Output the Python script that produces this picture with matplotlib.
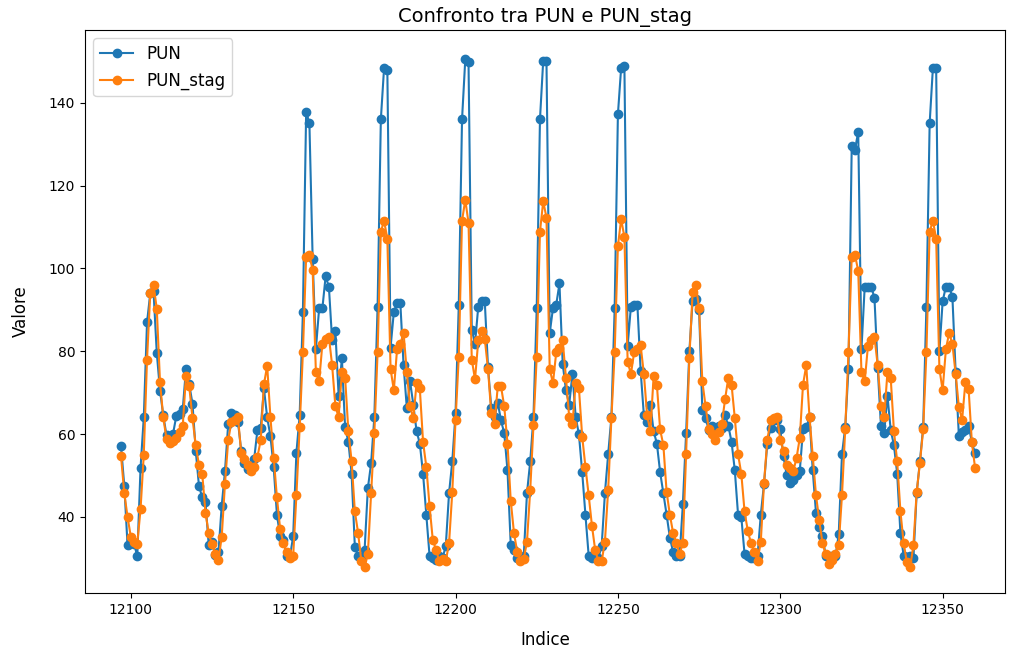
import numpy as np
import matplotlib
matplotlib.use("Agg")
import matplotlib.pyplot as plt

start_index = 12097

pun = [
    57.0, 47.5, 33.2, 34.5, 33.5, 30.5, 51.8, 64.0, 87.0, 94.0, 94.5, 79.6,
    70.5, 64.5, 59.7, 59.5, 60.0, 64.3, 64.8, 66.0, 75.8, 72.0, 67.3, 56.0,
    47.4, 44.7, 43.5, 33.2, 33.8, 30.8, 31.5, 42.7, 51.0, 62.5, 65.0, 64.5,
    63.0, 56.0, 53.0, 51.5, 52.0, 54.0, 61.0, 61.5, 71.0, 64.0, 59.5, 52.0,
    40.5, 35.3, 34.5, 30.5, 30.3, 35.3, 55.5, 64.5, 89.5, 137.9, 135.1, 102.4,
    80.5, 90.4, 90.4, 98.1, 95.6, 82.6, 84.8, 69.3, 78.3, 61.6, 58.1, 50.4,
    32.7, 30.5, 30.0, 32.0, 46.9, 52.9, 64.1, 90.8, 136.0, 148.5, 148.0, 80.9,
    89.5, 91.7, 91.7, 76.6, 66.3, 72.7, 67.1, 60.7, 57.7, 50.4, 40.5, 30.6,
    30.0, 29.5, 30.6, 30.0, 33.0, 45.7, 53.4, 65.0, 91.2, 136.0, 150.5, 149.8,
    85.2, 81.8, 90.8, 92.1, 92.1, 76.2, 66.3, 64.0, 67.6, 63.3, 60.2, 51.2,
    33.2, 32.0, 30.1, 30.0, 30.5, 45.7, 53.4, 64.1, 90.4, 136.0, 150.2, 150.2,
    84.3, 90.4, 91.2, 96.4, 77.0, 70.6, 67.1, 74.5, 64.1, 59.9, 50.8, 40.5,
    30.6, 30.1, 30.1, 30.1, 33.0, 45.7, 55.1, 64.1, 90.4, 137.2, 148.5, 148.9,
    81.3, 90.8, 91.2, 91.2, 75.3, 64.5, 62.8, 67.1, 60.7, 57.7, 50.8, 45.7,
    40.5, 35.0, 31.5, 30.5, 30.5, 43.0, 60.2, 80.0, 92.1, 92.5, 90.0, 65.8,
    63.8, 61.0, 62.0, 61.5, 62.0, 61.5, 64.5, 62.0, 58.1, 51.2, 40.5, 40.0,
    31.0, 30.5, 30.0, 30.0, 30.5, 40.5, 48.0, 57.7, 61.5, 63.5, 63.5, 61.1,
    54.6, 50.0, 48.2, 49.0, 50.0, 51.0, 61.1, 61.6, 64.1, 51.2, 40.9, 37.5,
    35.3, 30.6, 30.5, 30.6, 30.5, 35.8, 55.1, 61.6, 75.7, 129.5, 128.7, 133.0,
    80.5, 95.6, 95.6, 95.6, 92.9, 76.0, 62.0, 60.2, 69.3, 61.0, 57.3, 50.4,
    36.0, 30.6, 30.3, 30.6, 30.0, 45.7, 53.4, 61.6, 90.8, 135.1, 148.5, 148.5,
    80.0, 92.1, 95.6, 95.6, 93.2, 75.0, 59.5, 60.5, 61.0, 62.0, 58.0, 55.3,
]

pun_stag = [
    54.6, 45.7, 40.0, 35.2, 34.0, 33.5, 41.8, 55.0, 78.0, 94.0, 96.0, 90.3,
    72.5, 64.0, 58.8, 57.8, 58.3, 59.0, 60.5, 62.0, 74.0, 71.5, 63.8, 57.3,
    52.5, 50.4, 41.0, 36.0, 33.5, 31.0, 29.5, 35.2, 48.0, 58.5, 63.0, 63.5,
    64.0, 55.5, 54.0, 52.5, 51.0, 52.0, 54.5, 58.5, 72.0, 76.5, 64.0, 54.2,
    44.7, 37.0, 33.6, 31.5, 30.0, 30.5, 45.2, 61.6, 79.7, 102.8, 103.3, 99.6,
    74.9, 72.7, 81.8, 83.0, 83.5, 76.6, 66.7, 64.1, 74.9, 73.6, 60.7, 53.4,
    41.3, 36.1, 29.3, 27.8, 31.0, 45.7, 60.2, 79.7, 108.9, 111.5, 107.2, 75.7,
    70.6, 80.5, 81.8, 84.4, 74.9, 66.7, 63.8, 72.3, 71.0, 58.1, 52.1, 42.6,
    34.4, 32.0, 29.3, 29.7, 29.3, 33.6, 46.0, 63.3, 78.7, 111.5, 116.6, 111.0,
    78.0, 73.2, 82.6, 84.8, 83.0, 75.7, 65.0, 62.4, 71.5, 71.5, 66.7, 57.7,
    43.9, 36.1, 31.5, 29.3, 29.8, 34.0, 46.5, 62.1, 78.7, 108.9, 116.2, 112.3,
    75.7, 72.3, 79.7, 80.9, 82.6, 73.6, 64.1, 62.4, 72.3, 71.0, 59.4, 52.1,
    45.2, 37.9, 32.0, 29.3, 29.3, 34.0, 46.5, 63.8, 79.7, 105.4, 111.9, 107.6,
    77.5, 74.5, 79.7, 80.5, 81.4, 74.5, 64.5, 60.7, 74.0, 71.9, 61.1, 57.3,
    46.0, 40.5, 36.1, 33.6, 31.0, 33.6, 55.1, 78.3, 94.2, 96.0, 90.4, 72.7,
    66.7, 61.1, 59.9, 58.5, 60.5, 62.4, 68.4, 73.6, 71.9, 63.8, 55.1, 50.4,
    41.3, 36.6, 33.6, 31.5, 29.3, 34.0, 48.2, 58.5, 63.3, 63.8, 64.1, 58.5,
    56.0, 52.5, 51.7, 51.0, 54.2, 59.0, 71.9, 76.6, 64.1, 54.6, 45.2, 39.2,
    33.6, 31.0, 28.5, 29.5, 31.0, 33.2, 45.2, 61.1, 79.7, 102.8, 103.3, 99.4,
    74.9, 72.7, 81.3, 82.6, 83.5, 76.6, 66.7, 64.1, 74.9, 73.6, 60.7, 53.4,
    41.3, 33.6, 29.0, 27.8, 33.2, 46.0, 53.0, 61.1, 79.7, 108.9, 111.5, 107.2,
    75.7, 70.6, 80.5, 84.4, 81.8, 74.5, 66.5, 63.5, 72.5, 70.8, 58.0, 51.7,
]

indice = np.arange(start_index, start_index + len(pun))

fig = plt.figure(figsize=(10.09, 6.47), dpi=100)
ax = fig.add_axes([85 / 1009, 1 - 593 / 647, 920 / 1009, 563 / 647])

ax.plot(indice, pun, marker='o', label='PUN')
ax.plot(indice, pun_stag, marker='o', label='PUN_stag')

ax.set_xlim(12085.9, 12369.2)
ax.set_ylim(21.6, 157.6)

ax.set_title('Confronto tra PUN e PUN_stag', fontsize=14)
ax.set_xlabel('Indice', fontsize=12, labelpad=10)
ax.set_ylabel('Valore', fontsize=12, labelpad=14)
ax.legend(loc='upper left', fontsize=12)

fig.savefig('out.png', dpi=100)
